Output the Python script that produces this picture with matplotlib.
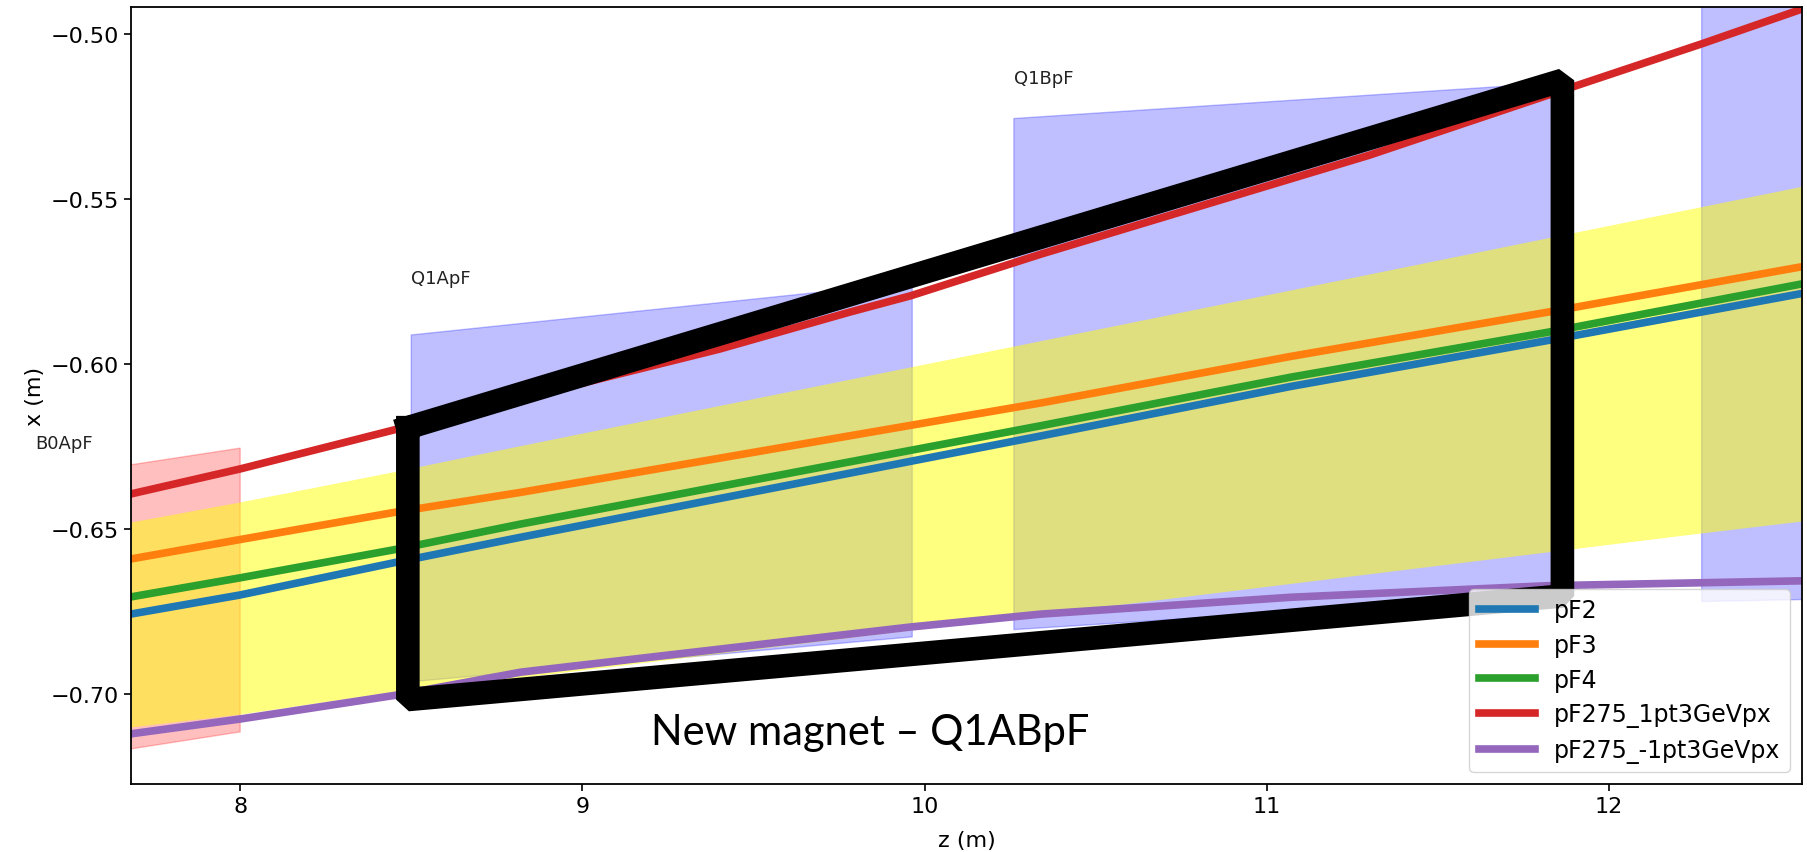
import matplotlib.pyplot as plt

# trajectories (z in m, x in m)
z_pf = [7.68, 8.0, 8.46, 8.82, 10.34, 11.07, 11.82, 12.57]
x_pf2 = [-0.6758, -0.6700, -0.6600, -0.6525, -0.6218, -0.6068, -0.5929, -0.5785]
x_pf3 = [-0.6591, -0.6532, -0.6448, -0.6389, -0.6118, -0.5977, -0.5843, -0.5704]
x_pf4 = [-0.6706, -0.6648, -0.6561, -0.6485, -0.6187, -0.6040, -0.5904, -0.5756]

z_plus = [7.68, 8.0, 8.46, 9.40, 9.78, 9.96, 10.34, 11.30, 11.90, 12.27, 12.57]
x_plus = [-0.6394, -0.6318, -0.6197, -0.5955, -0.5843, -0.5793, -0.5667,
          -0.5367, -0.5158, -0.5030, -0.4922]

z_minus = [7.68, 8.0, 8.46, 8.82, 9.96, 10.34, 11.07, 11.82, 12.57]
x_minus = [-0.7121, -0.7076, -0.7003, -0.6934, -0.6797, -0.6758, -0.6707,
           -0.6672, -0.6657]

# beam envelope (yellow band)
z_env = [7.68, 8.0, 8.46, 8.82, 10.34, 12.27, 12.57]
env_top = [-0.6479, -0.6418, -0.6324, -0.6247, -0.5929, -0.5523, -0.5460]
env_bot = [-0.7100, -0.7061, -0.6991, -0.6950, -0.6758, -0.6512, -0.6475]

# magnet apertures: name, z start/end, top (start, end), bottom (start, end)
magnet_names = ["B0ApF", "Q1ApF", "Q1BpF", ""]
magnet_z = [(7.40, 8.00), (8.50, 9.964), (10.261, 11.86), (12.271, 13.50)]
magnet_top = [(-0.6350, -0.6255), (-0.5912, -0.5753), (-0.5256, -0.5147), (-0.40, -0.39)]
magnet_bot = [(-0.7212, -0.7115), (-0.6963, -0.6827), (-0.6805, -0.6700), (-0.6720, -0.6694)]
magnet_colors = ["red", "blue", "blue", "blue"]

# proposed new magnet outline
new_z = [8.49, 11.864, 11.864, 8.49, 8.49]
new_x = [-0.6193, -0.5140, -0.6703, -0.7017, -0.6193]

plt.rcParams["font.size"] = 16

fig = plt.figure(figsize=(18.07, 8.53), dpi=100)
ax = fig.add_axes([0.0725, 0.0797, 0.9247, 0.9109])

for name, (z0, z1), (t0, t1), (b0, b1), c in zip(magnet_names, magnet_z, magnet_top,
                                                 magnet_bot, magnet_colors):
    ax.fill([z0, z1, z1, z0], [t0, t1, b1, b0], color=c, alpha=0.25)
    if name:
        ax.text(z0, max(t0, t1), name, fontsize=13, color="#222222")

ax.fill_between(z_env, env_bot, env_top, color="yellow", alpha=0.5, linewidth=0)

lw = 5.5
ax.plot(z_pf, x_pf2, color="tab:blue", lw=lw, label="pF2")
ax.plot(z_pf, x_pf3, color="tab:orange", lw=lw, label="pF3")
ax.plot(z_pf, x_pf4, color="tab:green", lw=lw, label="pF4")
ax.plot(z_plus, x_plus, color="tab:red", lw=lw, label="pF275_1pt3GeVpx")
ax.plot(z_minus, x_minus, color="tab:purple", lw=lw, label="pF275_-1pt3GeVpx")

ax.plot(new_z, new_x, color="black", lw=17, solid_joinstyle="bevel")
ax.text(9.84, -0.7152, "New magnet \u2013 Q1ABpF", fontsize=30, family="Lato",
        ha="center", va="baseline")

ax.set_xlim(7.681, 12.564)
ax.set_ylim(-0.7273, -0.4918)
ax.set_xticks([8, 9, 10, 11, 12])
ax.set_yticks([-0.70, -0.65, -0.60, -0.55, -0.50])
ax.set_xlabel("z (m)", labelpad=10)
ax.set_ylabel("x (m)")
ax.tick_params(length=5, width=1.2)
for s in ax.spines.values():
    s.set_linewidth(1.3)

ax.legend(loc="lower right", handlelength=2.4, fontsize=17, labelspacing=0.45)

fig.savefig("out.png", dpi=100)
